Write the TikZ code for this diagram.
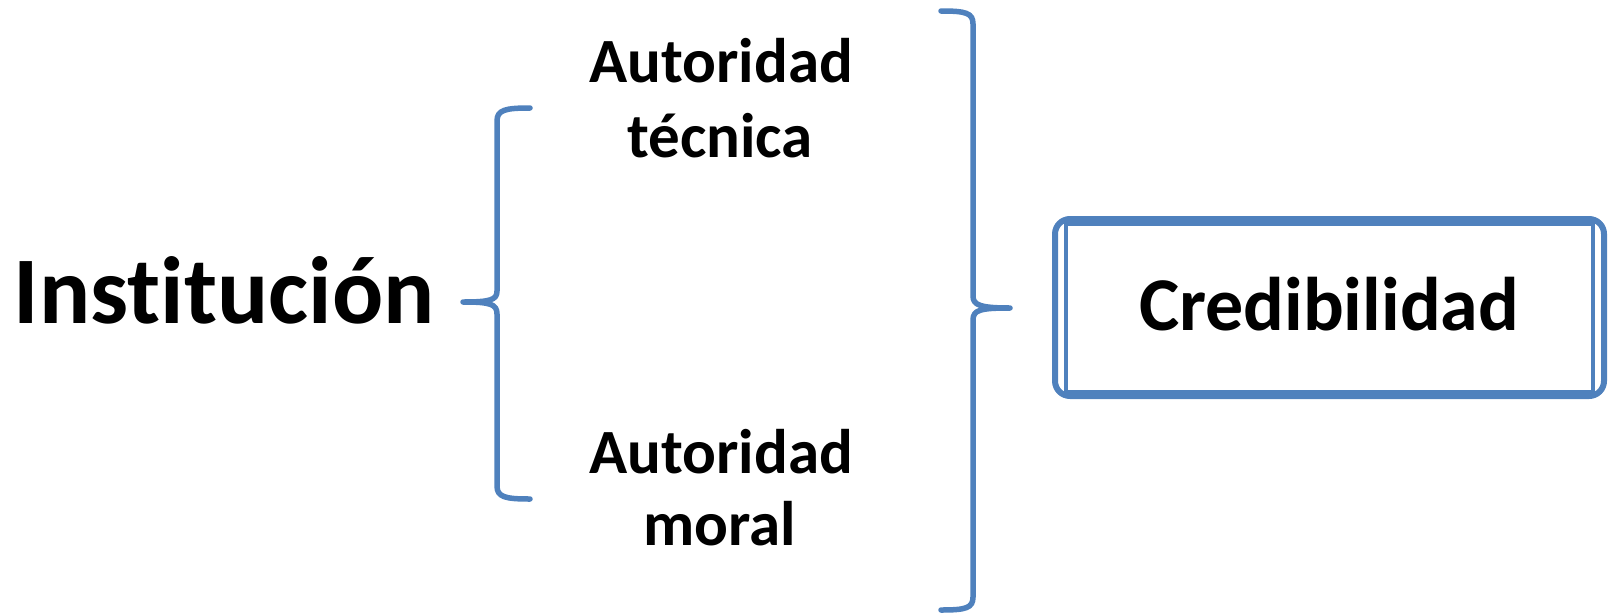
\documentclass[tikz,border=0pt]{standalone}
\usepackage{fontspec}
\setmainfont{Carlito}[Ligatures={NoCommon}]
\definecolor{bracecol}{RGB}{79,129,189}
\begin{document}
\begin{tikzpicture}[x=1pt,y=-1pt,
  brace/.style={draw=bracecol,line width=5.5pt,line cap=round,line join=round},
  lbl/.style={inner sep=0pt,anchor=base,font=\bfseries\fontsize{63}{75}\selectfont},
  big/.style={inner sep=0pt,font=\bfseries\fontsize{95.5}{114}\selectfont},
  cred/.style={inner sep=0pt,anchor=base,font=\bfseries\fontsize{76}{91}\selectfont}]
\useasboundingbox (0,0) rectangle (1608,614);
% texts
\node[big,anchor=base west] (inst) at (13.5,323) {Institución};
\node[lbl] (at1) at (721,82) {Autoridad};
\node[lbl] (at2) at (720,157) {técnica};
\node[lbl] (am1) at (721,473) {Autoridad};
\node[lbl] (am2) at (720,545) {moral};
% left brace
\draw[brace] (530,108) .. controls (505,108) and (497,110) .. (497,121)
  -- (497,291) .. controls (497,300) and (490,302) .. (463,302)
  (463,302) .. controls (490,302) and (497,304) .. (497,314)
  -- (497,486) .. controls (497,497) and (505,499) .. (530,499);
% right brace
\draw[brace] (941,11) .. controls (966,11) and (973,13) .. (973,24)
  -- (973,296) .. controls (973,305) and (980,308) .. (1010,308)
  (1010,308) .. controls (980,308) and (973,310) .. (973,320)
  -- (973,597) .. controls (973,608) and (966,610) .. (941,610);
% box
\draw[bracecol,line width=6pt,rounded corners=15pt] (1055,219) rectangle (1604,396);
\draw[bracecol,line width=3.5pt] (1066,224) rectangle (1593,392);
\node[cred] (cred) at (1329,330) {Credibilidad};
\end{tikzpicture}
\end{document}
